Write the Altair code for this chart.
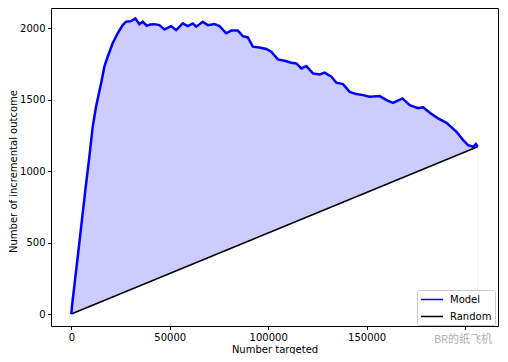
import altair as alt
import pandas as pd

# Model curve
model_x = [0, 300, 3500, 7120, 9155, 10850, 12560, 15100, 16785, 18460, 21000, 23550,
           26090, 27820, 30360, 32550, 34585, 36260, 38300, 40200, 42215, 44760, 47300,
           50700, 53250, 56620, 59150, 61700, 63420, 66780, 69320, 72730, 75270, 78680,
           81220, 84580, 87120, 89670, 92210, 95620, 99020, 101560, 104920, 108330,
           111740, 114280, 116830, 119370, 122730, 126130, 128680, 132080, 134620,
           137990, 141390, 144800, 148150, 151560, 156650, 160060, 163410, 168190,
           171910, 176130, 178670, 182080, 186300, 190580, 195660, 199010, 201560,
           204100, 205470, 206400]
model_y = [0, 50, 430, 868, 1101, 1311, 1452, 1615, 1732, 1802, 1896, 1966,
           2024, 2047, 2051, 2070, 2030, 2047, 2019, 2028, 2030, 2023, 1993,
           2016, 1988, 2035, 2016, 2035, 2012, 2047, 2023, 2030, 2016, 1966,
           1985, 1985, 1946, 1937, 1872, 1867, 1856, 1837, 1783, 1774,
           1760, 1755, 1720, 1736, 1685, 1678, 1690, 1662, 1620,
           1610, 1556, 1540, 1533, 1521, 1526, 1498, 1479, 1510,
           1463, 1442, 1447, 1410, 1370, 1339, 1276, 1218, 1183,
           1171, 1190, 1171]

# Random baseline
random_x = [0, 206400]
random_y = [0, 1171]

series = ["Model", "Random"]
colors = ["#0000ff", "#000000"]
x_ticks = [0, 50000, 100000, 150000, 200000]
y_ticks = [0, 500, 1000, 1500, 2000]

model_df = pd.DataFrame({"x": model_x, "y": model_y, "series": "Model"})
random_df = pd.DataFrame({"x": random_x, "y": random_y, "series": "Random"})

W, H = 447, 318
xs = alt.Scale(domain=[-10320, 216720], nice=False, zero=False)
ys = alt.Scale(domain=[-84, 2143], nice=False, zero=False)

xaxis = alt.Axis(values=x_ticks, format="d", title="Number targeted",
                 labelExpr="datum.value == 200000 ? '' : datum.label",
                 titleX=W / 2, titleY=23, titleAlign="center", titleBaseline="middle")
yaxis = alt.Axis(values=y_ticks, format="d", title="Number of incremental outcome",
                 titleX=-38, titleY=H / 2 + 4, titleAngle=-90, titleAlign="center",
                 titleBaseline="middle")

color = alt.Color("series:N", scale=alt.Scale(domain=series, range=colors),
                  legend=alt.Legend(title=None, orient="none", legendX=366, legendY=282))

fill_model = alt.Chart(model_df).mark_area(color="#ccccff").encode(
    x=alt.X("x:Q", scale=xs, axis=xaxis),
    y=alt.Y("y:Q", scale=ys, axis=yaxis),
    y2=alt.datum(0),
)
fill_random = alt.Chart(random_df).mark_area(color="white").encode(
    x=alt.X("x:Q", scale=xs), y=alt.Y("y:Q", scale=ys), y2=alt.datum(0)
)
line_random = alt.Chart(random_df).mark_line(strokeWidth=1.5).encode(
    x=alt.X("x:Q", scale=xs), y=alt.Y("y:Q", scale=ys), color=color
)
line_model = alt.Chart(model_df).mark_line(strokeWidth=2.5).encode(
    x=alt.X("x:Q", scale=xs), y=alt.Y("y:Q", scale=ys), color=color
)
watermark = alt.Chart(pd.DataFrame({"t": ["BR的纸飞机"]})).mark_text(
    font="Noto Sans CJK SC", fontSize=11, color="#b0b0b0", align="center", baseline="middle"
).encode(x=alt.value(412), y=alt.value(332), text="t:N")

chart = alt.layer(fill_model, fill_random, line_random, line_model, watermark).properties(
    width=W, height=H,
    autosize=alt.AutoSizeParams(type="none"),
    padding={"left": 43, "top": 0, "right": 2, "bottom": 28},
).configure(font="DejaVu Sans").configure_view(
    stroke="#000000", strokeWidth=1
).configure_axis(
    domain=False, grid=False, tickColor="#000000", tickSize=3.5, tickWidth=1,
    labelFont="DejaVu Sans", labelFontSize=10, labelColor="#000000", labelPadding=2.5,
    titleFont="DejaVu Sans", titleFontSize=10, titleColor="#000000", titleFontWeight="normal",
).configure_legend(
    strokeColor="#cccccc", fillColor="white", cornerRadius=2, padding=3,
    symbolType="M-1,0H3", symbolSize=121, symbolStrokeWidth=1.5, rowPadding=5,
    labelOffset=17, labelFont="DejaVu Sans", labelFontSize=10, labelColor="#000000",
)

chart.save("out.html", embed_options={"renderer": "svg", "actions": False})
